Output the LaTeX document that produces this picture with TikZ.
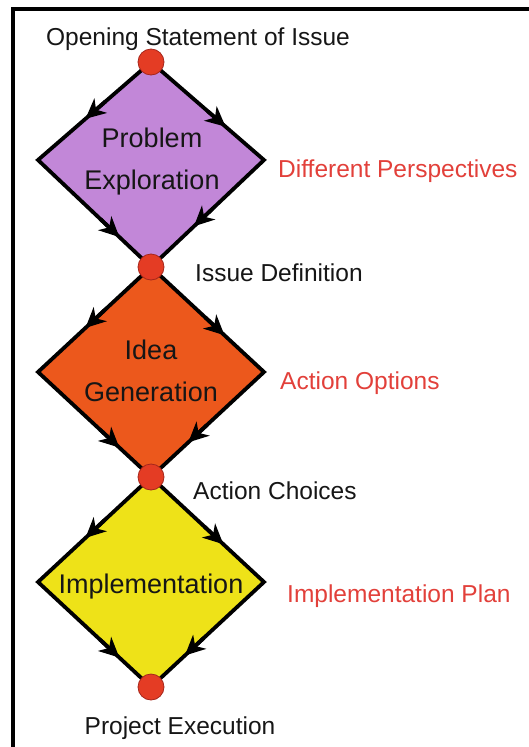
\documentclass[tikz,border=0pt]{standalone}
\usepackage{fontspec}
\setmainfont{Liberation Sans}
\usepackage{xcolor}
\usepackage{tikz}
\usetikzlibrary{arrows.meta,calc}
\definecolor{stagePurple}{RGB}{194,135,216}
\definecolor{stageOrange}{RGB}{236,88,28}
\definecolor{stageYellow}{RGB}{238,226,24}
\definecolor{dotRed}{RGB}{228,60,36}
\definecolor{dotRim}{RGB}{165,38,28}
\definecolor{noteRed}{RGB}{226,64,58}
\definecolor{labelGray}{RGB}{22,22,22}

\begin{document}
\begin{tikzpicture}[x=1pt,y=-1pt,
    stagedot/.style={circle, fill=dotRed, draw=dotRim, line width=0.8pt, minimum size=26pt, inner sep=0pt},
    rim/.style={draw=black, line width=3.8pt, line join=miter},
    flowtip/.style={line width=3.8pt, -{Stealth[length=20pt,width=19pt,inset=6pt]}},
    stagetext/.style={font=\fontsize{27}{42}\selectfont, align=center, inner sep=0pt, text=labelGray},
    stagelabel/.style={font=\fontsize{24.5}{29}\selectfont, inner sep=0pt, text=labelGray},
    stagenote/.style={stagelabel, text=noteRed}]

\useasboundingbox (0,0) rectangle (529,747);
\clip (0,0) rectangle (529,747);

% frame, only the left and top sides are in view
\draw[line width=3.5pt] (13,770) -- (13,9) -- (560,9);

% =========================
% stage points and corners
% =========================
\coordinate (p0) at (151,62);
\coordinate (p1) at (151,267);
\coordinate (p2) at (151,477);
\coordinate (p3) at (151,687);

\coordinate (l1) at (38,160);   \coordinate (r1) at (264,160);
\coordinate (l2) at (38,372);   \coordinate (r2) at (264,372);
\coordinate (l3) at (38,582);   \coordinate (r3) at (264,582);

% =========================
% 1. problem exploration
% =========================
\fill[stagePurple] (p0) -- (r1) -- (p1) -- (l1) -- cycle;
\path[rim] (p0) -- (l1) -- (p1) -- (r1) -- cycle;
\draw[flowtip] ($(p0)!0.40!(l1)$) -- ($(p0)!0.58!(l1)$);
\draw[flowtip] ($(p0)!0.50!(r1)$) -- ($(p0)!0.66!(r1)$);
\draw[flowtip] ($(l1)!0.55!(p1)$) -- ($(l1)!0.72!(p1)$);
\draw[flowtip] ($(r1)!0.45!(p1)$) -- ($(r1)!0.62!(p1)$);

% =========================
% 2. idea generation
% =========================
\fill[stageOrange] (p1) -- (r2) -- (p2) -- (l2) -- cycle;
\path[rim] (p1) -- (l2) -- (p2) -- (r2) -- cycle;
\draw[flowtip] ($(p1)!0.40!(l2)$) -- ($(p1)!0.58!(l2)$);
\draw[flowtip] ($(p1)!0.48!(r2)$) -- ($(p1)!0.65!(r2)$);
\draw[flowtip] ($(l2)!0.55!(p2)$) -- ($(l2)!0.72!(p2)$);
\draw[flowtip] ($(r2)!0.50!(p2)$) -- ($(r2)!0.67!(p2)$);

% =========================
% 3. implementation
% =========================
\fill[stageYellow] (p2) -- (r3) -- (p3) -- (l3) -- cycle;
\path[rim] (p2) -- (l3) -- (p3) -- (r3) -- cycle;
\draw[flowtip] ($(p2)!0.40!(l3)$) -- ($(p2)!0.58!(l3)$);
\draw[flowtip] ($(p2)!0.47!(r3)$) -- ($(p2)!0.64!(r3)$);
\draw[flowtip] ($(l3)!0.55!(p3)$) -- ($(l3)!0.72!(p3)$);
\draw[flowtip] ($(r3)!0.53!(p3)$) -- ($(r3)!0.70!(p3)$);

% dots on top of the corners
\node[stagedot] (d0) at (p0) {};
\node[stagedot] (d1) at (p1) {};
\node[stagedot] (d2) at (p2) {};
\node[stagedot] (d3) at (p3) {};

% stage names
\node[stagetext] (explore) at (152,162) {Problem\\Exploration};
\node[stagetext] (ideas) at (151,371) {Idea\\Generation};
\node[stagetext, anchor=base] (implement) at (151,593) {Implementation};

% outcomes between the stages
\node[stagelabel, anchor=base] (opening) at (198,45) {Opening Statement of Issue};
\node[stagelabel, anchor=base west] (issue) at (195,281) {Issue Definition};
\node[stagelabel, anchor=base west] (choices) at (193,499) {Action Choices};
\node[stagelabel, anchor=base] (execution) at (180,734) {Project Execution};

% what each stage produces
\node[stagenote, anchor=base west] (perspectives) at (278,177) {Different Perspectives};
\node[stagenote, anchor=base west] (options) at (280,389) {Action Options};
\node[stagenote, anchor=base west] (plan) at (287,602) {Implementation Plan};

\end{tikzpicture}
\end{document}
